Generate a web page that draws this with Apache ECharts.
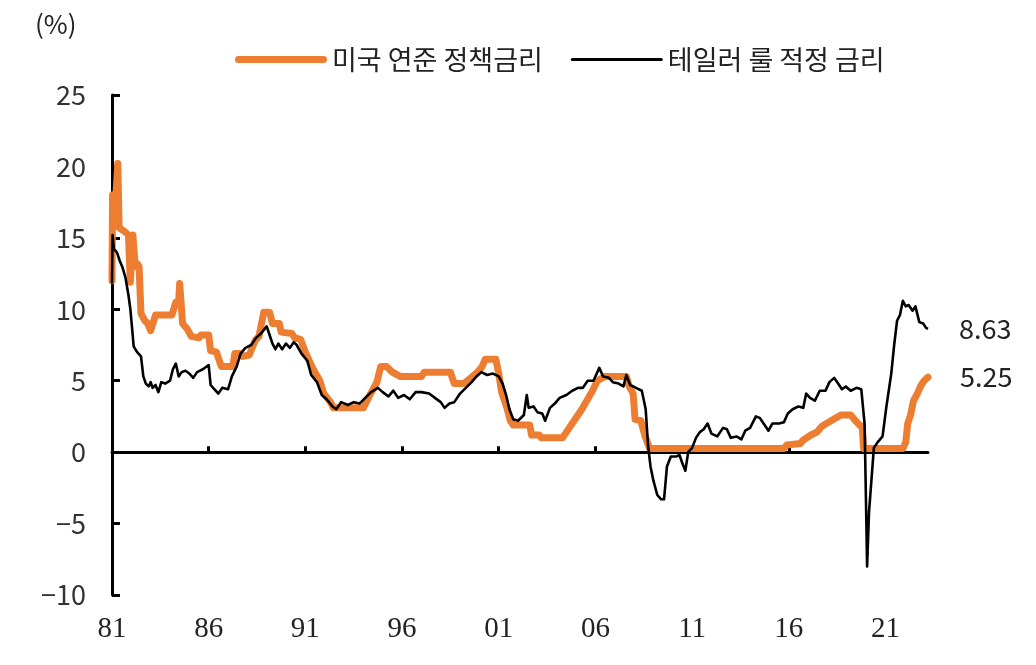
<!DOCTYPE html>
<html>
<head>
<meta charset="utf-8">
<script src="https://cdn.jsdelivr.net/npm/echarts@6/dist/echarts.min.js"></script>
<style>
html,body{margin:0;padding:0;background:#fff;}
#chart{width:1036px;height:665px;}
</style>
</head>
<body>
<div id="chart"></div>
<script>
// ---- data (decimal year, %) ----
const seriesNames = ['미국 연준 정책금리', '테일러 룰 적정 금리'];
const yUnit = '(%)';
const xTickYears = [1981, 1986, 1991, 1996, 2001, 2006, 2011, 2016, 2021];
const yTicks = [-10, -5, 0, 5, 10, 15, 20, 25];

const fedFunds = [
  [1981.0, 12.0], [1981.03, 18.0], [1981.12, 16.0], [1981.3, 20.2], [1981.37, 15.7],
  [1981.6, 15.5], [1981.85, 15.2], [1981.95, 11.9], [1982.08, 15.2], [1982.2, 13.0],
  [1982.3, 13.2], [1982.4, 13.0], [1982.5, 9.7], [1982.7, 9.2], [1982.85, 9.0],
  [1983.0, 8.5], [1983.1, 8.5], [1983.25, 9.6], [1984.1, 9.6], [1984.3, 10.5],
  [1984.45, 10.6], [1984.5, 11.8], [1984.65, 9.0], [1984.9, 8.6], [1985.1, 8.1],
  [1985.5, 8.0], [1985.6, 8.2], [1986.0, 8.2], [1986.1, 7.1], [1986.4, 7.0],
  [1986.5, 6.6], [1986.65, 6.0], [1987.25, 6.0], [1987.35, 6.9], [1987.6, 6.9],
  [1987.75, 6.7], [1988.1, 6.8], [1988.4, 7.8], [1988.6, 8.1], [1988.85, 9.8],
  [1989.15, 9.8], [1989.3, 9.0], [1989.65, 9.0], [1989.75, 8.4], [1990.3, 8.3],
  [1990.45, 8.0], [1990.75, 7.9], [1991.0, 7.0], [1991.2, 6.4], [1991.45, 5.7],
  [1991.75, 5.0], [1991.95, 4.1], [1992.3, 3.5], [1992.45, 3.1], [1994.0, 3.1],
  [1994.3, 3.9], [1994.7, 4.9], [1994.9, 6.0], [1995.2, 6.0], [1995.5, 5.6],
  [1995.9, 5.3], [1997.0, 5.3], [1997.15, 5.6], [1998.5, 5.6], [1998.7, 4.8],
  [1999.2, 4.8], [1999.55, 5.2], [1999.9, 5.6], [2000.15, 6.0], [2000.3, 6.5],
  [2000.85, 6.5], [2001.0, 5.5], [2001.15, 4.2], [2001.4, 3.2], [2001.6, 2.2],
  [2001.75, 1.9], [2002.6, 1.9], [2002.7, 1.2], [2003.1, 1.2], [2003.2, 1.0],
  [2004.3, 1.0], [2004.5, 1.4], [2004.8, 2.0], [2005.3, 3.0], [2005.85, 4.3],
  [2006.1, 5.0], [2006.5, 5.3], [2007.6, 5.3], [2007.75, 4.6], [2007.95, 4.1],
  [2008.05, 2.3], [2008.35, 2.2], [2008.55, 1.2], [2008.8, 0.25], [2015.75, 0.25],
  [2015.9, 0.5], [2016.6, 0.6], [2016.75, 0.85], [2017.15, 1.2], [2017.45, 1.4],
  [2017.7, 1.8], [2017.95, 2.0], [2018.45, 2.4], [2018.7, 2.6], [2019.2, 2.6],
  [2019.45, 2.2], [2019.65, 1.9], [2019.8, 1.8], [2019.87, 0.25], [2021.9, 0.25],
  [2022.05, 0.7], [2022.15, 2.0], [2022.3, 2.6], [2022.45, 3.6], [2022.65, 4.1],
  [2022.85, 4.7], [2023.0, 5.0], [2023.2, 5.25]
];

const taylorRule = [
  [1981.0, 11.8], [1981.03, 15.2], [1981.1, 14.2], [1981.25, 14.0], [1981.4, 13.4],
  [1981.55, 12.9], [1981.7, 12.2], [1981.85, 11.0], [1981.95, 10.0], [1982.05, 8.5],
  [1982.12, 7.4], [1982.3, 7.0], [1982.5, 6.7], [1982.62, 5.3], [1982.75, 4.8],
  [1982.9, 4.6], [1983.0, 4.9], [1983.1, 4.5], [1983.25, 4.7], [1983.4, 4.2],
  [1983.55, 4.9], [1983.75, 4.8], [1984.0, 5.0], [1984.15, 5.8], [1984.3, 6.2],
  [1984.45, 5.3], [1984.6, 5.6], [1984.8, 5.7], [1985.0, 5.5], [1985.2, 5.2],
  [1985.4, 5.6], [1985.7, 5.8], [1986.0, 6.1], [1986.1, 4.7], [1986.3, 4.4],
  [1986.5, 4.1], [1986.7, 4.5], [1987.0, 4.4], [1987.2, 5.3], [1987.45, 6.0],
  [1987.65, 6.9], [1987.9, 7.3], [1988.2, 7.5], [1988.45, 8.0], [1988.7, 8.3],
  [1989.0, 8.8], [1989.15, 8.2], [1989.3, 7.6], [1989.45, 7.2], [1989.6, 7.6],
  [1989.8, 7.2], [1990.0, 7.6], [1990.2, 7.3], [1990.4, 7.7], [1990.55, 7.5],
  [1990.8, 6.9], [1991.1, 6.4], [1991.3, 5.4], [1991.6, 4.9], [1991.85, 4.0],
  [1992.1, 3.7], [1992.4, 3.2], [1992.6, 3.0], [1992.85, 3.5], [1993.2, 3.3],
  [1993.5, 3.5], [1993.8, 3.4], [1994.1, 3.8], [1994.4, 4.2], [1994.75, 4.5],
  [1995.0, 4.2], [1995.3, 3.9], [1995.55, 4.3], [1995.8, 3.8], [1996.1, 4.0],
  [1996.4, 3.7], [1996.7, 4.2], [1997.0, 4.2], [1997.4, 4.1], [1997.7, 3.8],
  [1998.0, 3.5], [1998.2, 3.1], [1998.45, 3.4], [1998.7, 3.5], [1999.0, 4.1],
  [1999.3, 4.5], [1999.6, 4.9], [1999.85, 5.3], [2000.1, 5.6], [2000.4, 5.4],
  [2000.7, 5.5], [2001.0, 5.3], [2001.2, 4.8], [2001.4, 3.9], [2001.55, 3.0],
  [2001.75, 2.3], [2002.0, 2.2], [2002.3, 2.6], [2002.45, 4.0], [2002.55, 3.1],
  [2002.8, 3.2], [2003.0, 2.8], [2003.25, 2.7], [2003.4, 2.2], [2003.65, 3.1],
  [2003.9, 3.4], [2004.15, 3.8], [2004.5, 4.0], [2004.8, 4.3], [2005.1, 4.5],
  [2005.35, 4.5], [2005.6, 5.0], [2005.9, 5.0], [2006.2, 5.9], [2006.4, 5.3],
  [2006.7, 5.2], [2006.9, 4.9], [2007.2, 4.8], [2007.45, 4.6], [2007.6, 5.4],
  [2007.8, 4.7], [2008.1, 4.5], [2008.4, 4.3], [2008.6, 3.0], [2008.72, 0.5],
  [2008.85, -1.0], [2009.0, -2.0], [2009.2, -3.0], [2009.4, -3.3], [2009.55, -3.3],
  [2009.7, -1.0], [2009.9, -0.3], [2010.2, -0.3], [2010.35, -0.2], [2010.5, -0.8],
  [2010.65, -1.3], [2010.8, 0.0], [2011.0, 0.3], [2011.2, 1.0], [2011.4, 1.4],
  [2011.6, 1.6], [2011.8, 2.0], [2012.0, 1.3], [2012.3, 1.1], [2012.6, 1.7],
  [2012.8, 1.6], [2013.0, 1.0], [2013.3, 1.1], [2013.55, 0.9], [2013.75, 1.5],
  [2014.0, 1.7], [2014.3, 2.5], [2014.5, 2.4], [2014.75, 1.9], [2014.95, 1.5],
  [2015.15, 2.0], [2015.5, 2.0], [2015.75, 2.1], [2015.95, 2.7], [2016.2, 3.0],
  [2016.5, 3.2], [2016.75, 3.1], [2016.9, 4.1], [2017.1, 3.8], [2017.35, 3.6],
  [2017.6, 4.3], [2017.9, 4.3], [2018.1, 4.9], [2018.35, 5.2], [2018.55, 4.8],
  [2018.75, 4.4], [2018.95, 4.6], [2019.2, 4.3], [2019.5, 4.5], [2019.75, 4.4],
  [2019.85, 4.5], [2019.92, 2.0], [2020.0, -4.0], [2020.05, -8.0], [2020.15, -4.2],
  [2020.3, -1.5], [2020.4, 0.3], [2020.6, 0.7], [2020.85, 1.1], [2021.05, 3.2],
  [2021.3, 5.5], [2021.45, 7.5], [2021.6, 9.2], [2021.75, 9.6], [2021.9, 10.6],
  [2022.05, 10.2], [2022.2, 10.3], [2022.4, 9.9], [2022.55, 10.2], [2022.75, 9.1],
  [2022.95, 9.0], [2023.1, 8.7], [2023.2, 8.63]
];

const X_MIN = 1981, X_MAX = 2023.2;
const ORANGE = '#ED7D31';
const SANS = '"Noto Sans CJK KR", "Noto Sans", sans-serif';
const SERIF = '"Liberation Serif", "DejaVu Serif", serif';
const ICON_THICK = 'path://M3.5,0 L88.5,0 A3.5,3.5 0 0 1 88.5,7 L3.5,7 A3.5,3.5 0 0 1 3.5,0 Z';
const ICON_THIN = 'path://M1.5,0 L90.5,0 A1.5,1.5 0 0 1 90.5,3 L1.5,3 A1.5,1.5 0 0 1 1.5,0 Z';

const chart = echarts.init(document.getElementById('chart'), null, {renderer: 'canvas'});
const option = {
  animation: false,
  backgroundColor: '#fff',
  grid: {left: 112, right: 108, top: 95, bottom: 70, containLabel: false, outerBoundsMode: 'none'},
  legend: {
    left: 230, top: 41,
    itemWidth: 92, itemHeight: 14, itemGap: 28,
    textStyle: {fontFamily: SANS, fontSize: 27, color: '#222'},
    itemStyle: {borderWidth: 0},
    data: [
      {name: seriesNames[0], icon: ICON_THICK, itemStyle: {color: ORANGE, borderWidth: 0}},
      {name: seriesNames[1], icon: ICON_THIN, itemStyle: {color: '#000', borderWidth: 0}}
    ]
  },
  graphic: [{
    type: 'text', left: 35, top: 11,
    style: {text: yUnit, font: '26px ' + SANS, fill: '#222'}
  }],
  xAxis: [{
    type: 'value', min: X_MIN, max: X_MAX, interval: 5,
    position: 'bottom',
    axisLine: {show: false, onZero: false},
    axisTick: {show: false},
    splitLine: {show: false},
    axisLabel: {
      customValues: xTickYears,
      margin: 20,
      fontFamily: SERIF, fontSize: 29, color: '#222',
      formatter: v => (xTickYears.indexOf(v) >= 0 ? String(v % 100).padStart(2, '0') : '')
    }
  }, {
    type: 'value', min: X_MIN, max: X_MAX, interval: 5,
    position: 'bottom',
    axisLine: {show: true, onZero: true, lineStyle: {color: '#000', width: 3}},
    axisTick: {show: true, inside: true, length: 6, customValues: xTickYears.slice(1), lineStyle: {color: '#000', width: 3}},
    axisLabel: {show: false},
    splitLine: {show: false}
  }],
  yAxis: {
    type: 'value', min: yTicks[0], max: yTicks[yTicks.length - 1], interval: 5,
    axisLine: {show: true, onZero: false, lineStyle: {color: '#000', width: 3}},
    axisTick: {show: true, inside: true, length: 8, lineStyle: {color: '#000', width: 3}},
    splitLine: {show: false},
    axisLabel: {
      margin: 26, fontFamily: SANS, fontSize: 27, color: '#333',
      formatter: v => (v < 0 ? '\u2212' + Math.abs(v) : String(v))
    }
  },
  series: [{
    name: seriesNames[0], type: 'line', xAxisIndex: 0,
    data: fedFunds, showSymbol: false, symbol: 'none',
    color: ORANGE,
    lineStyle: {color: ORANGE, width: 7, cap: 'round', join: 'round'},
    endLabel: {show: true, distance: 32, fontFamily: SANS, fontSize: 27, color: '#222',
      formatter: p => p.value[1].toFixed(2)},
    z: 2
  }, {
    name: seriesNames[1], type: 'line', xAxisIndex: 0,
    data: taylorRule, showSymbol: false, symbol: 'none',
    color: '#000',
    lineStyle: {color: '#000', width: 2.6, join: 'round'},
    endLabel: {show: true, distance: 31, fontFamily: SANS, fontSize: 27, color: '#222',
      formatter: p => p.value[1].toFixed(2)},
    z: 3
  }]
};
chart.setOption(option);
</script>
</body>
</html>
